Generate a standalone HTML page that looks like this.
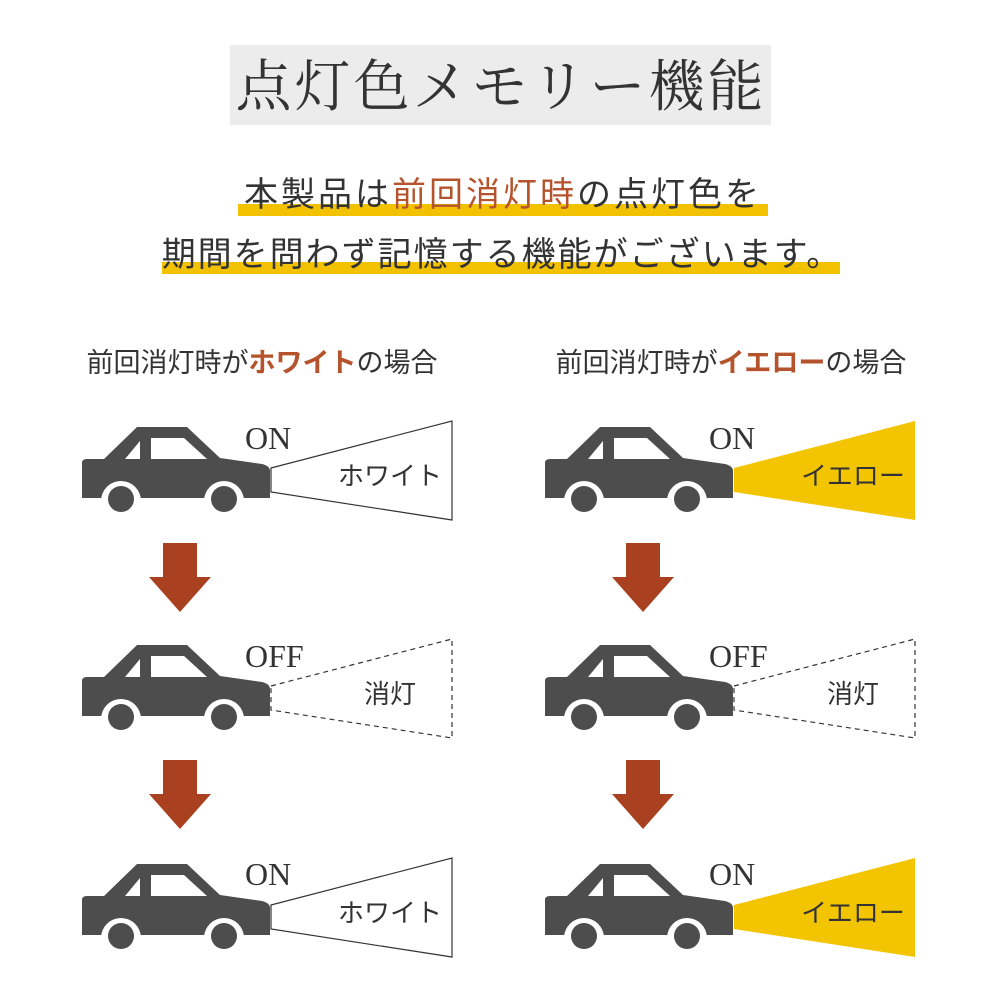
<!DOCTYPE html>
<html><head><meta charset="utf-8"><style>
body{margin:0;background:#fff;}
svg text{font-family:"Liberation Sans","Noto Sans CJK JP",sans-serif;}
</style></head><body>
<svg width="1000" height="1000" viewBox="0 0 1000 1000" xmlns="http://www.w3.org/2000/svg">
<defs>
<g id="car">
<path d="M82,463 Q82,459 87,459 L104,459 L137,427 L187,427 L220,458 L262,464 Q270,466 270,471 L270,498 L82,498 Z" fill="#4d4d4d"/>
<path d="M125,459 L140,441 L140,459 Z" fill="#fff"/>
<path d="M151,438 L184,438 L207,459 L151,459 Z" fill="#fff"/>
<circle cx="121" cy="501" r="20" fill="#fff"/>
<circle cx="224" cy="501" r="20" fill="#fff"/>
<circle cx="121" cy="499" r="13" fill="#4d4d4d"/>
<circle cx="224" cy="499" r="13" fill="#4d4d4d"/>
</g>
<g id="arrow"><path d="M163,543 L197,543 L197,577 L211,577 L180,612 L149,577 L163,577 Z" fill="#a9401f"/></g>
</defs>
<rect x="230" y="45" width="541" height="80" fill="#ececec"/>
<text x="501" y="106" text-anchor="middle" font-size="56" fill="#333" style="font-family:'Liberation Serif','Noto Serif CJK SC',serif" letter-spacing="3">点灯色メモリー機能</text>
<rect x="238" y="204" width="530" height="12" fill="#f2c200"/>
<rect x="162" y="262" width="678" height="12" fill="#f2c200"/>
<text x="503" y="206" text-anchor="middle" font-size="34" fill="#333" letter-spacing="3">本製品は<tspan fill="#b5532d">前回消灯時</tspan>の点灯色を</text>
<text x="502" y="266" text-anchor="middle" font-size="34" fill="#333" letter-spacing="2">期間を問わず記憶する機能がございます。</text>
<text x="262" y="372" text-anchor="middle" font-size="27" fill="#333">前回消灯時が<tspan fill="#b5532d" font-weight="bold">ホワイト</tspan>の場合</text>
<text x="731" y="372" text-anchor="middle" font-size="27" fill="#333">前回消灯時が<tspan fill="#b5532d" font-weight="bold">イエロー</tspan>の場合</text>
<g font-size="32" fill="#333">
<text x="245" y="449" style="font-family:'Liberation Serif',serif">ON</text>
<text x="245" y="667" style="font-family:'Liberation Serif',serif">OFF</text>
<text x="245" y="885" style="font-family:'Liberation Serif',serif">ON</text>
<text x="709" y="449" style="font-family:'Liberation Serif',serif">ON</text>
<text x="709" y="667" style="font-family:'Liberation Serif',serif">OFF</text>
<text x="709" y="885" style="font-family:'Liberation Serif',serif">ON</text>
</g>
<use href="#car"/><use href="#car" y="218"/><use href="#car" y="437"/>
<use href="#arrow"/><use href="#arrow" y="217"/>
<polygon points="271,468 452,421 452,520 271,492" fill="#fff" stroke="#333" stroke-width="1.2"/>
<polygon points="271,686 452,639 452,738 271,710" fill="#fff" stroke="#333" stroke-width="1.2" stroke-dasharray="5,4"/>
<polygon points="271,905 452,858 452,957 271,929" fill="#fff" stroke="#333" stroke-width="1.2"/>
<text x="390" y="485" text-anchor="middle" font-size="26" fill="#333">ホワイト</text>
<text x="390" y="703" text-anchor="middle" font-size="26" fill="#333">消灯</text>
<text x="390" y="922" text-anchor="middle" font-size="26" fill="#333">ホワイト</text>
<g transform="translate(463,0)">
<use href="#car"/><use href="#car" y="218"/><use href="#car" y="437"/>
<use href="#arrow"/><use href="#arrow" y="217"/>
<polygon points="271,468 452,421 452,520 271,492" fill="#f2c500"/>
<polygon points="271,686 452,639 452,738 271,710" fill="#fff" stroke="#333" stroke-width="1.2" stroke-dasharray="5,4"/>
<polygon points="271,905 452,858 452,957 271,929" fill="#f2c500"/>
<text x="390" y="485" text-anchor="middle" font-size="26" fill="#333">イエロー</text>
<text x="390" y="703" text-anchor="middle" font-size="26" fill="#333">消灯</text>
<text x="390" y="922" text-anchor="middle" font-size="26" fill="#333">イエロー</text>
</g>
</svg>
</body></html>
